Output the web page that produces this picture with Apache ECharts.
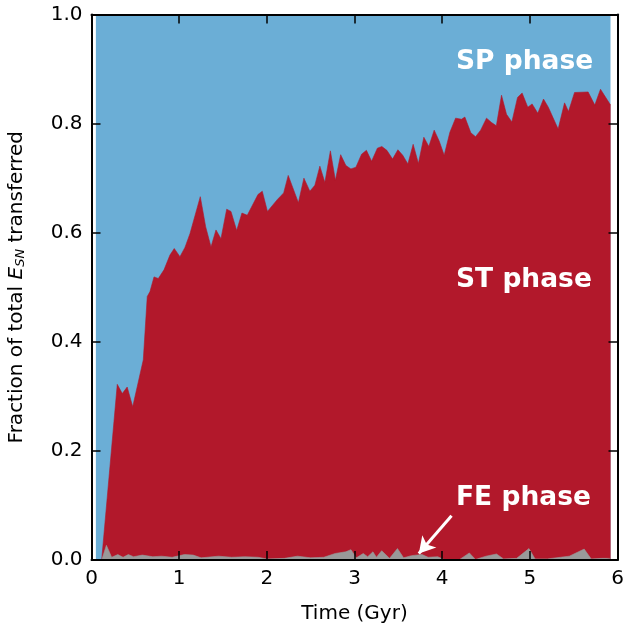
<!DOCTYPE html>
<html>
<head>
<meta charset="utf-8">
<script src="https://cdn.jsdelivr.net/npm/echarts@6/dist/echarts.min.js"></script>
<style>
html,body{margin:0;padding:0;background:#fff;overflow:hidden;}
#chart{width:624px;height:628px;}
</style>
</head>
<body>
<div id="chart"></div>
<script>
// ---- data ----
// time grid (Gyr) of the upper edge of the ST phase area
var timeGyr = [0.116,0.294,0.351,0.407,0.470,0.591,0.636,0.667,0.713,0.762,0.827,0.895,0.944,1.009,1.066,1.123,1.241,1.302,1.363,1.420,1.477,1.542,1.591,1.656,1.716,1.777,1.899,1.948,2.007,2.121,2.192,2.244,2.360,2.423,2.491,2.548,2.605,2.662,2.725,2.782,2.842,2.902,2.959,3.016,3.081,3.136,3.195,3.261,3.312,3.369,3.434,3.495,3.550,3.609,3.669,3.729,3.791,3.848,3.909,3.966,4.023,4.088,4.153,4.221,4.259,4.327,4.381,4.439,4.506,4.563,4.618,4.677,4.734,4.795,4.860,4.912,4.977,5.026,5.091,5.156,5.211,5.323,5.396,5.441,5.510,5.665,5.741,5.806,5.921];
// cumulative fraction FE+ST (upper edge of the red area)
var stCumulative = [0,0.322,0.305,0.317,0.281,0.367,0.483,0.492,0.519,0.516,0.532,0.559,0.571,0.556,0.573,0.598,0.666,0.611,0.574,0.605,0.589,0.643,0.639,0.604,0.636,0.632,0.670,0.676,0.639,0.661,0.673,0.705,0.655,0.700,0.676,0.687,0.722,0.692,0.750,0.696,0.743,0.723,0.717,0.720,0.744,0.751,0.731,0.755,0.758,0.751,0.735,0.752,0.742,0.726,0.762,0.727,0.775,0.758,0.788,0.768,0.742,0.784,0.810,0.808,0.812,0.783,0.776,0.788,0.810,0.802,0.796,0.852,0.817,0.803,0.848,0.856,0.830,0.836,0.819,0.845,0.830,0.790,0.838,0.822,0.857,0.858,0.834,0.863,0.834];
// FE phase fraction
var feTime = [0.116,0.17,0.23,0.30,0.36,0.42,0.48,0.58,0.70,0.80,0.92,1.06,1.16,1.25,1.45,1.60,1.75,1.90,2.00,2.20,2.35,2.50,2.65,2.78,2.90,2.96,3.02,3.10,3.15,3.21,3.25,3.31,3.40,3.49,3.56,3.65,3.77,3.84,3.95,4.02,4.20,4.31,4.38,4.50,4.62,4.70,4.85,4.99,5.06,5.20,5.35,5.45,5.62,5.70,5.82,5.92];
var feFrac = [0,0.027,0.005,0.010,0.005,0.010,0.006,0.009,0.006,0.007,0.005,0.010,0.009,0.004,0.007,0.005,0.006,0.005,0.002,0.003,0.007,0.004,0.005,0.012,0.015,0.019,0.004,0.012,0.006,0.015,0.005,0.017,0.003,0.021,0.004,0.008,0.010,0.005,0.006,0.001,0.001,0.013,0.001,0.007,0.011,0.002,0.003,0.021,0.002,0.002,0.005,0.007,0.020,0.002,0.003,0.003];
// total (SP phase fills up to 1) over the simulated time span
var spTime = [0.05, 5.92];
var spTotal = [1, 1];
var xTicks = [0,1,2,3,4,5,6];
var yTicks = [0.0,0.2,0.4,0.6,0.8,1.0];
var phaseLabels = ['SP phase','ST phase','FE phase'];
var arrowFrom = [4.107, 0.081];
var arrowTo = [3.734, 0.012];

function zip(a,b){ return a.map(function(v,i){ return [v,b[i]]; }); }

var FONT = 'DejaVu Sans';
var chart = echarts.init(document.getElementById('chart'), null, {renderer:'canvas'});

var axisCommon = {
  type:'value',
  axisLine:{show:true, onZero:false, lineStyle:{color:'#000', width:2}},
  axisTick:{show:true, inside:true, length:9, lineStyle:{color:'#000', width:1.5}},
  splitLine:{show:false},
  z: 10
};

var option = {
  animation:false,
  backgroundColor:'#fff',
  grid:{left:91.5, right:6.5, top:14.5, bottom:68, containLabel:false, outerBoundsMode:'none'},
  xAxis:[
    Object.assign({}, axisCommon, {
      position:'bottom', min:0, max:6, interval:1,
      axisLabel:{show:true, margin:9, color:'#000', fontFamily:FONT, fontSize:20,
        formatter:function(v){ return xTicks.indexOf(v)>=0 ? String(v) : ''; }},
      name:'Time (Gyr)', nameLocation:'middle', nameGap:44,
      nameTextStyle:{color:'#000', fontFamily:FONT, fontSize:20}
    }),
    Object.assign({}, axisCommon, {
      position:'top', min:0, max:6, interval:1, axisLabel:{show:false}
    })
  ],
  yAxis:[
    Object.assign({}, axisCommon, {
      position:'left', min:0, max:1, interval:0.2,
      axisLabel:{show:true, margin:9, color:'#000', fontFamily:FONT, fontSize:20,
        formatter:function(v){ return v.toFixed(1); }},
      name:'{a|Fraction of total }{i|E}{s|SN}{a| transferred}',
      nameLocation:'middle', nameGap:64, nameRotate:90,
      nameTextStyle:{
        color:'#000', fontFamily:FONT, fontSize:20,
        rich:{
          a:{fontFamily:FONT, fontSize:20, color:'#000'},
          i:{fontFamily:FONT, fontSize:20, fontStyle:'italic', color:'#000'},
          s:{fontFamily:FONT, fontSize:13, fontStyle:'italic', color:'#000', padding:[9,0,0,0]}
        }
      }
    }),
    Object.assign({}, axisCommon, {
      position:'right', min:0, max:1, interval:0.2, axisLabel:{show:false}
    })
  ],
  series:[
    {
      name:'SP', type:'line', data:zip(spTime, spTotal), showSymbol:false, symbol:'none',
      lineStyle:{width:0, color:'#6baed6'}, areaStyle:{color:'#6baed6', opacity:1},
      silent:true, z:2
    },
    {
      name:'ST', type:'line', data:zip(timeGyr, stCumulative), showSymbol:false, symbol:'none',
      lineStyle:{width:0.6, color:'#b2182b'}, areaStyle:{color:'#b2182b', opacity:1},
      silent:true, z:3
    },
    {
      name:'FE', type:'line', data:zip(feTime, feFrac), showSymbol:false, symbol:'none',
      lineStyle:{width:0.6, color:'#999999'}, areaStyle:{color:'#999999', opacity:1},
      silent:true, z:4,
      markLine:{
        silent:true, symbol:['none','arrow'], symbolSize:[14,16],
        label:{show:false},
        lineStyle:{color:'#fff', width:3, type:'solid'},
        data:[[{coord:arrowFrom},{coord:arrowTo}]]
      }
    }
  ],
  graphic:[
    {type:'text', left:456, top:49, z:20, style:{text:phaseLabels[0], fill:'#fff', font:'bold 26.5px "DejaVu Sans"'}},
    {type:'text', left:456, top:267, z:20, style:{text:phaseLabels[1], fill:'#fff', font:'bold 26.5px "DejaVu Sans"'}},
    {type:'text', left:456, top:485, z:20, style:{text:phaseLabels[2], fill:'#fff', font:'bold 26.5px "DejaVu Sans"'}}
  ]
};
chart.setOption(option);
</script>
</body>
</html>
